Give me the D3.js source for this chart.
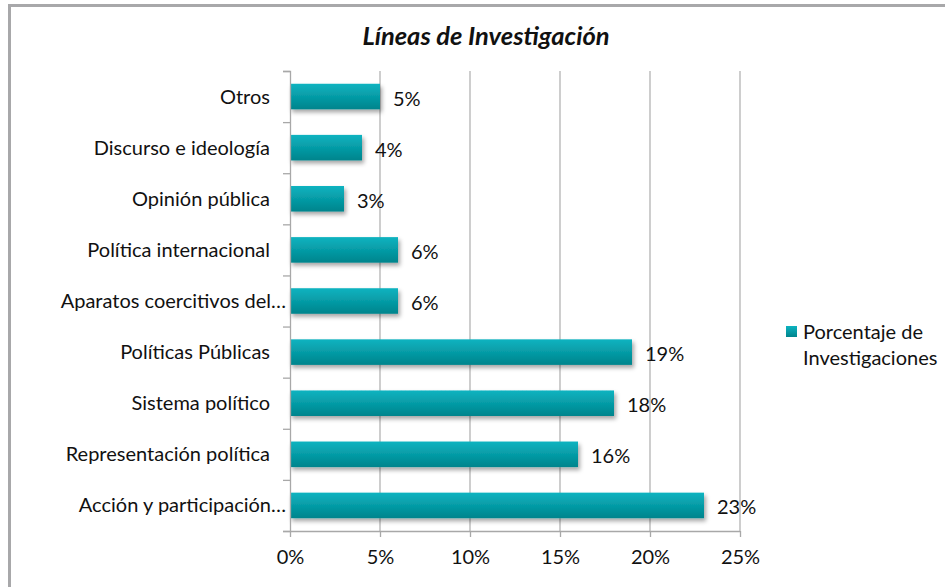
<!DOCTYPE html>
<html><head><meta charset="utf-8">
<script src="https://cdn.jsdelivr.net/npm/d3@7"></script>
<style>body{margin:0;background:#fff}svg{display:block}</style>
</head><body>
<svg id="c" width="945" height="587"></svg>
<script>
const categories = ["Otros","Discurso e ideología","Opinión pública ","Política internacional","Aparatos coercitivos del…","Políticas Públicas","Sistema político","Representación política","Acción y participación…"];
const values = [5,4,3,6,6,19,18,16,23];
const ticks = [0,5,10,15,20,25];
const seriesName = ["Porcentaje de","Investigaciones"];
const title = "Líneas de Investigación";

const svg = d3.select("#c");
const font = "Lato, 'Open Sans', sans-serif";
const defs = svg.append("defs");
const g1 = defs.append("linearGradient").attr("id","bg").attr("x1",0).attr("y1",0).attr("x2",0).attr("y2",1);
g1.append("stop").attr("offset","0%").attr("stop-color","#0cb3c0");
g1.append("stop").attr("offset","100%").attr("stop-color","#00848c");
const f = defs.append("filter").attr("id","sh").attr("x","-5%").attr("y","-20%").attr("width","115%").attr("height","170%");
f.append("feDropShadow").attr("dx",2).attr("dy",3).attr("stdDeviation",2).attr("flood-color","#000").attr("flood-opacity",0.35);

// frame
svg.append("path").attr("d","M9.5,587 V5.5 H945").attr("fill","none").attr("stroke","#a8a8aa").attr("stroke-width",3);

const x = d3.scaleLinear().domain([0,25]).range([290,740]);
const y = d3.scaleBand().domain(categories).range([71,531]).paddingInner(0.5).paddingOuter(0.25);

// gridlines
svg.append("g").selectAll("line").data(ticks.slice(1)).join("line")
  .attr("x1",d=>x(d)).attr("x2",d=>x(d)).attr("y1",71).attr("y2",531)
  .attr("stroke","#b3b3b3").attr("stroke-width",1.3);

// bars
svg.append("g").selectAll("rect").data(values).join("rect")
  .attr("x",x(0)).attr("y",(d,i)=>y(categories[i]))
  .attr("width",d=>x(d)-x(0)).attr("height",y.bandwidth())
  .attr("fill","url(#bg)").attr("filter","url(#sh)");

// y axis
const ya = svg.append("g").attr("transform","translate(290,0)")
  .call(d3.axisLeft(d3.scaleLinear().domain([0,categories.length]).range([71,531])).ticks(categories.length).tickSize(7).tickFormat(""));
ya.selectAll("line,path").attr("stroke","#a8a8a8").attr("stroke-width",1.3);
// x axis
const xa = svg.append("g").attr("transform","translate(0,531)")
  .call(d3.axisBottom(x).tickValues(ticks).tickSize(6).tickFormat(d=>d+"%"));
xa.selectAll("line,path").attr("stroke","#a8a8a8").attr("stroke-width",1.3);
xa.selectAll("text").attr("font-family",font).attr("font-size",20).attr("fill","#111").attr("dy","0").attr("y",33);
xa.select(".domain").attr("d","M290,0.5H740");

// category labels
svg.append("g").selectAll("text").data(categories).join("text")
  .attr("x",d=>d.endsWith("…")?286:270).attr("y",d=>y(d)+y.bandwidth()/2).attr("dy","0.35em")
  .attr("text-anchor","end").attr("font-family",font).attr("font-size",20).attr("fill","#111")
  .text(d=>d.trim());

// value labels
svg.append("g").selectAll("text").data(values).join("text")
  .attr("x",d=>x(d)+13).attr("y",(d,i)=>y(categories[i])+y.bandwidth()/2+2).attr("dy","0.35em")
  .attr("font-family",font).attr("font-size",20).attr("fill","#111")
  .text(d=>d+"%");

// title
svg.append("text").attr("x",486).attr("y",45).attr("text-anchor","middle")
  .attr("font-family",font).attr("font-size",25.5).attr("font-weight","bold").attr("font-style","italic").attr("fill","#111")
  .text(title);

// legend
svg.append("rect").attr("x",786).attr("y",326).attr("width",11).attr("height",11).attr("fill","url(#bg)");
svg.append("g").selectAll("text").data(seriesName).join("text")
  .attr("x",803).attr("y",(d,i)=>339+i*26)
  .attr("font-family",font).attr("font-size",20).attr("fill","#111").text(d=>d);
</script>
</body></html>
